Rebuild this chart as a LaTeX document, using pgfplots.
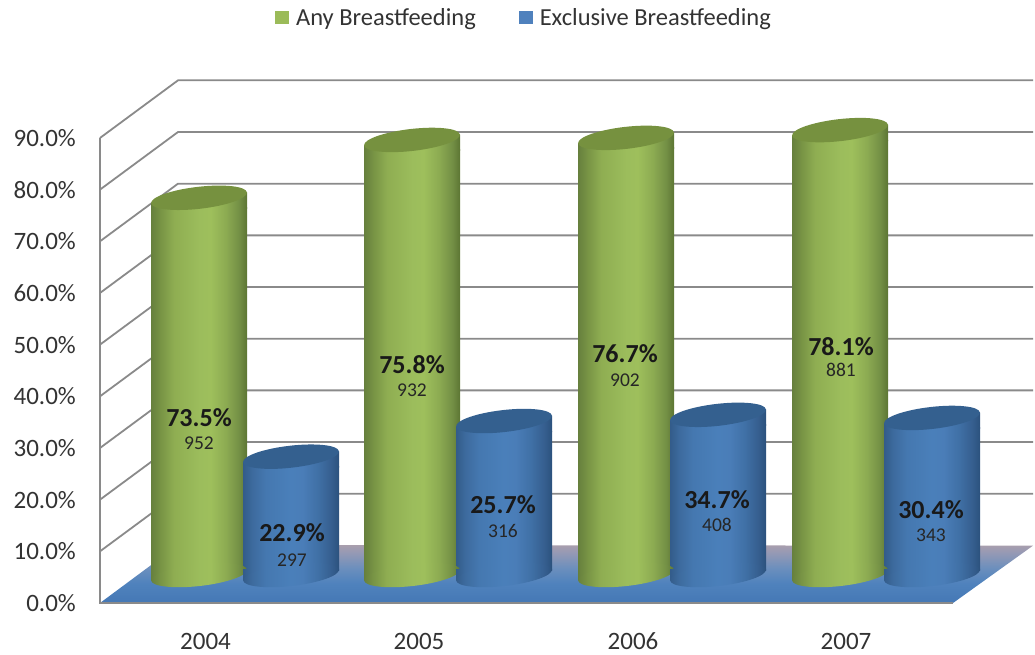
\documentclass[border=0pt]{standalone}
\usepackage{pgfplots}
\pgfplotsset{compat=1.18}
\usepackage{fontspec}
\setmainfont{Carlito}
\definecolor{gridc}{HTML}{8A8A8A}
\definecolor{gcap}{HTML}{76913F}
\definecolor{bcap}{HTML}{34608F}
\definecolor{gleg}{HTML}{9BBB59}
\definecolor{bleg}{HTML}{4F81BD}
\pgfdeclarehorizontalshading{greenbody}{100bp}{
  rgb(0bp)=(0.40,0.50,0.24);rgb(25bp)=(0.40,0.50,0.24);rgb(30bp)=(0.47,0.58,0.27);
  rgb(37bp)=(0.56,0.68,0.32);rgb(50bp)=(0.61,0.74,0.36);rgb(56bp)=(0.62,0.75,0.36);
  rgb(64bp)=(0.55,0.67,0.32);rgb(71bp)=(0.45,0.56,0.27);rgb(75bp)=(0.36,0.46,0.20);rgb(100bp)=(0.36,0.46,0.20)}
\pgfdeclarehorizontalshading{bluebody}{100bp}{
  rgb(0bp)=(0.20,0.36,0.54);rgb(25bp)=(0.20,0.36,0.54);rgb(30bp)=(0.24,0.42,0.62);
  rgb(37bp)=(0.27,0.47,0.69);rgb(50bp)=(0.29,0.50,0.73);rgb(56bp)=(0.29,0.49,0.72);
  rgb(64bp)=(0.25,0.44,0.65);rgb(71bp)=(0.21,0.37,0.56);rgb(75bp)=(0.17,0.32,0.49);rgb(100bp)=(0.17,0.32,0.49)}
\pgfdeclareverticalshading{floorsh}{100bp}{
  rgb(0bp)=(0.27,0.47,0.71);rgb(25bp)=(0.27,0.47,0.71);rgb(42bp)=(0.31,0.51,0.74);
  rgb(55bp)=(0.42,0.56,0.74);rgb(68bp)=(0.58,0.60,0.71);rgb(75bp)=(0.66,0.62,0.68);rgb(100bp)=(0.66,0.62,0.68)}
% tilted ellipse, written out as four Bezier arcs
\newcommand\tiltell{(47.89pt,5.46pt) .. controls (47.20pt,11.49pt) and (25.21pt,13.94pt) .. (-1.245pt,10.93pt)
  .. controls (-27.70pt,7.92pt) and (-48.58pt,0.58pt) .. (-47.89pt,-5.46pt)
  .. controls (-47.20pt,-11.49pt) and (-25.21pt,-13.94pt) .. (1.245pt,-10.93pt)
  .. controls (27.70pt,-7.92pt) and (48.58pt,-0.58pt) .. (47.89pt,5.46pt) -- cycle}
\pgfdeclareplotmark{greentop}{%
  \path[draw=none,shading=greenbody] (-48pt,-5.4pt) -- (48pt,5.4pt) -- (48pt,-11pt) -- (-48pt,-11pt) -- cycle;
  \path[draw=none,fill=gcap] \tiltell;}
\pgfdeclareplotmark{bluetop}{%
  \path[draw=none,shading=bluebody] (-48pt,-5.4pt) -- (48pt,5.4pt) -- (48pt,-11pt) -- (-48pt,-11pt) -- cycle;
  \path[draw=none,fill=bcap] \tiltell;}
\pgfdeclareplotmark{greenbase}{%
  \path[draw=none,shading=greenbody] (-48pt,-5.4pt) -- (48pt,5.4pt) -- (48pt,6pt) -- (-48pt,6pt) -- cycle;
  \path[draw=none,shading=greenbody] \tiltell;}
\pgfdeclareplotmark{bluebase}{%
  \path[draw=none,shading=bluebody] (-48pt,-5.4pt) -- (48pt,5.4pt) -- (48pt,6pt) -- (-48pt,6pt) -- cycle;
  \path[draw=none,shading=bluebody] \tiltell;}
\newcommand\lab[5]{%
  \node[font=\fontsize{26}{26}\selectfont\bfseries,text=black!90,inner sep=0pt] at (axis cs:#1,{(570-#2)/5.167}) {#3};
  \node[font=\fontsize{19.5}{19.5}\selectfont,text=black!85,inner sep=0pt] at (axis cs:#1,{(570-#4)/5.167}) {#5};}
\newcommand\legsq[1]{\pgfsetfillcolor{#1}\pgfpathrectangle{\pgfpoint{0pt}{-6.5pt}}{\pgfpoint{14pt}{13pt}}\pgfusepath{fill}}
\pgfplotsset{
  gbar/.style={ybar,bar width=96pt,bar shift=0pt,draw=none,shading=greenbody,y filter/.expression={y-2.9}},
  bbar/.style={ybar,bar width=96pt,bar shift=0pt,draw=none,shading=bluebody,y filter/.expression={y-2.9}},
  capm/.style={only marks,mark=#1,forget plot,mark options={draw=none,fill=none},y filter/.expression={y-0.97}},
}
\begin{document}
\begin{tikzpicture}
% walls, floor, value axis and category axis
\begin{axis}[
  at={(0,0)},anchor=south west,
  scale only axis,width=1035pt,height=654pt,
  xmin=0,xmax=1035,ymin=-9.87,ymax=116.7,clip=false,
  axis line style={draw=none},tick style={draw=none},
  xtick={205.5,419,633,846},xticklabels={2004,2005,2006,2007},
  ytick={0,10,20,30,40,50,60,70,80,90},
  yticklabel={\pgfmathprintnumber[fixed,fixed zerofill,precision=1,assume math mode=true]{\tick}\%},
  tick label style={font=\fontsize{25}{25}\selectfont,text=black!80,inner sep=0pt},
  x tick label style={anchor=center,yshift=13pt},
  y tick label style={anchor=east,xshift=76pt},
  ]
\addplot[draw=none,shading=floorsh] coordinates {(100,0)(178,11.2)(1033,11.1)(953,0)} -- cycle;
\addplot[gridc,line width=1.8pt] coordinates {(100,10)(178,21.15)(1033,21.15)};
\addplot[gridc,line width=1.8pt] coordinates {(100,20)(178,31.15)(1033,31.15)};
\addplot[gridc,line width=1.8pt] coordinates {(100,30)(178,41.15)(1033,41.15)};
\addplot[gridc,line width=1.8pt] coordinates {(100,40)(178,51.15)(1033,51.15)};
\addplot[gridc,line width=1.8pt] coordinates {(100,50)(178,61.15)(1033,61.15)};
\addplot[gridc,line width=1.8pt] coordinates {(100,60)(178,71.15)(1033,71.15)};
\addplot[gridc,line width=1.8pt] coordinates {(100,70)(178,81.15)(1033,81.15)};
\addplot[gridc,line width=1.8pt] coordinates {(100,80)(178,91.15)(1033,91.15)};
\addplot[gridc,line width=1.8pt] coordinates {(100,90)(178,101.15)(1033,101.15)};
\addplot[gridc,line width=1.8pt] coordinates {(100,90)(100,0)(953,0)};
\end{axis}
% cylinders
\begin{axis}[
  at={(0,0)},anchor=south west,
  scale only axis,width=1035pt,height=654pt,
  xmin=0,xmax=1035,ymin=-16.257,ymax=110.31,clip=false,
  axis line style={draw=none},tick style={draw=none},
  xtick=\empty,ytick=\empty,
  legend style={at={(524/1035,1-18/654)},anchor=center,draw=none,fill=none,
    legend columns=2,font=\fontsize{24.5}{24.5}\selectfont,text=black!80,
    /tikz/every even column/.append style={column sep=41pt},
    /tikz/every odd column/.append style={column sep=5pt},
    inner sep=0pt,row sep=0pt},
  after end axis/.code={%
    \lab{199}{418}{73.5\%}{443}{952}
    \lab{292}{533}{22.9\%}{560}{297}
    \lab{412}{365}{75.8\%}{390}{932}
    \lab{503}{505}{25.7\%}{531}{316}
    \lab{625}{354}{76.7\%}{380}{902}
    \lab{717}{500}{34.7\%}{525}{408}
    \lab{841}{347}{78.1\%}{370}{881}
    \lab{931}{510}{30.4\%}{535}{343}
  },
  ]
% Any Breastfeeding
\addplot[gbar,legend image code/.code={\legsq{gleg}}] coordinates {(199,73.0)};
\addplot[gbar,forget plot] coordinates {(412,84.2)};
\addplot[gbar,forget plot] coordinates {(626,84.6)};
\addplot[gbar,forget plot] coordinates {(840,86.1)};
\addplot[capm=greenbase] coordinates {(199,0)(412,0)(626,0)(840,0)};
\addplot[capm=greentop] coordinates {(199,73.0)(412,84.2)(626,84.6)(840,86.1)};
% Exclusive Breastfeeding
\addplot[bbar,legend image code/.code={\legsq{bleg}}] coordinates {(291,22.9)};
\addplot[bbar,forget plot] coordinates {(504,29.8)};
\addplot[bbar,forget plot] coordinates {(718,31.0)};
\addplot[bbar,forget plot] coordinates {(932,30.4)};
\addplot[capm=bluebase] coordinates {(291,0)(504,0)(718,0)(932,0)};
\addplot[capm=bluetop] coordinates {(291,22.9)(504,29.8)(718,31.0)(932,30.4)};
\legend{Any Breastfeeding,Exclusive Breastfeeding}
\end{axis}
\end{tikzpicture}
\end{document}
